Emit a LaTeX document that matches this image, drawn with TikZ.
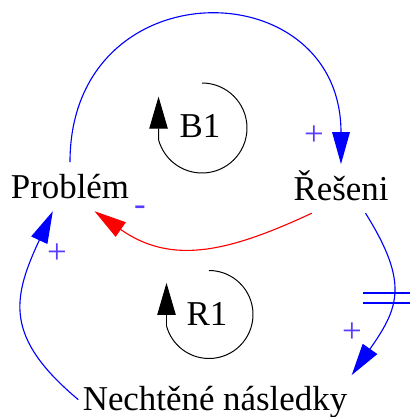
\documentclass[tikz,border=0pt]{standalone}
\usepackage{fontspec}
\setmainfont{Liberation Serif}
\usetikzlibrary{arrows.meta,calc}
\definecolor{linkblue}{RGB}{0,0,255}
\definecolor{linkred}{RGB}{255,0,0}
\definecolor{signcol}{RGB}{85,60,255}

\begin{document}
\begin{tikzpicture}[x=0.025cm,y=0.025cm,
    var/.style={font=\fontsize{24.8}{28}\selectfont, text height=22.3pt,
                text depth=6.2pt, inner sep=3pt, anchor=base},
    link/.style={line width=0.8pt, -{Triangle[length=8mm,width=4.4mm]}},
    sign/.style={font=\fontsize{24.8}{28}\selectfont, text=signcol, inner sep=0pt},
    loopname/.style={font=\fontsize{24.8}{28}\selectfont, inner sep=0pt},
    looparc/.style={line width=0.7pt, -{Triangle[length=8mm,width=4.6mm]}}]
  \useasboundingbox (0,0) rectangle (410,417);
  % Variables
  \node[var] (prob) at (70,219) {Problém};
  \node[var] (res) at (341,217) {Řešeni};
  \node[var] (nech) at (215,6) {Nechtěné následky};
  % Links
  \draw[link,linkblue] (prob.north) .. controls +(0,195) and +(0,195) .. (res.north);
  \draw[link,linkred] (res.220) to[out=205,in=-35,looseness=1.1] (prob.-45);
  \draw[link,linkblue] (nech.west) to[out=140,in=-115,looseness=1.3] (prob.235);
  \draw[link,linkblue] (res.-45) to[out=-58,in=55,looseness=1.3]
    coordinate[pos=0.52] (dly) (nech.north east);
  % Delay mark
  \draw[linkblue,line width=1pt] ($(dly)+(-29,5)$) -- +(49,0)
    ($(dly)+(-29,-5)$) -- +(49,0);
  % Polarities
  \node[sign] (s1) at (314,281) {+};
  \node[sign] (s2) at (140,206) {-};
  \node[sign] (s3) at (57,163) {+};
  \node[sign] (s4) at (352,84) {+};
  % Loops
  \node[loopname] (b1) at (200,291) {B1};
  \draw[looparc] (b1) ++(2,43) arc[start angle=90,end angle=-165,radius=45] -- ++(0,43);
  \node[loopname] (r1) at (207,103) {R1};
  \draw[looparc] (r1) ++(2,43.5) arc[start angle=90,end angle=-165,radius=44] -- ++(0,43);
\end{tikzpicture}
\end{document}
